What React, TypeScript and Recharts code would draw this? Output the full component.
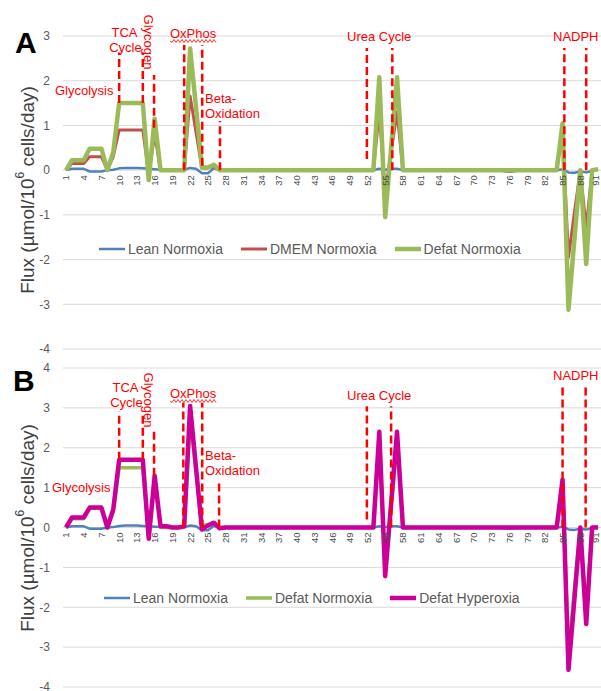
import React from "react";
import { LineChart, Line, XAxis, YAxis, CartesianGrid, ReferenceLine, Legend } from "recharts";

const categories = Array.from({ length: 91 }, (_, i) => i + 1);
const xTicks = [1, 4, 7, 10, 13, 16, 19, 22, 25, 28, 31, 34, 37, 40, 43, 46, 49, 52, 55, 58, 61, 64, 67, 70, 73, 76, 79, 82, 85, 88, 91];
const yTicksA = [-4, -3, -2, -1, 0, 1, 2, 3];
const yTicksB = [-4, -3, -2, -1, 0, 1, 2, 3, 4];

const leanNormoxia = [
  0, 0.03, 0.03, 0.03, -0.03, -0.03, -0.03, 0, 0.01, 0.04,
  0.05, 0.05, 0.05, 0.04, 0.03, 0.02, 0.01, 0, 0, 0,
  0.01, 0.05, 0.03, -0.07, -0.07, 0.04, 0, 0, 0, 0,
  0, 0, 0, 0, 0, 0, 0, 0, 0, 0,
  0, 0, 0, 0, 0, 0, 0, 0, 0, 0,
  0, 0, 0, 0.03, 0.01, 0.03, 0.03, 0, 0, 0,
  0, 0, 0, 0, 0, 0, 0, 0, 0, 0,
  0, 0, 0, 0, -0.02, -0.03, -0.02, 0, 0, 0,
  0, 0, 0, 0, 0.02, -0.05, -0.06, -0.03, -0.05, -0.02,
  0.02,
];
const dmemNormoxia = [
  0, 0.15, 0.15, 0.15, 0.3, 0.3, 0.3, 0, 0.3, 0.9,
  0.9, 0.9, 0.9, 0.9, -0.1, 0.8, 0, 0, 0, 0,
  0, 1.65, 0.85, 0.05, 0.05, 0.08, 0, 0, 0, 0,
  0, 0, 0, 0, 0, 0, 0, 0, 0, 0,
  0, 0, 0, 0, 0, 0, 0, 0, 0, 0,
  0, 0, 0, 1.3, -0.5, 0.4, 1.3, 0, 0, 0,
  0, 0, 0, 0, 0, 0, 0, 0, 0, 0,
  0, 0, 0, 0, -0.01, -0.03, -0.01, 0, 0, 0,
  0, 0, 0, 0, 0.9, -1.95, -0.95, 0, -1.3, 0,
  0.02,
];
const defatNormoxia = [
  0, 0.22, 0.22, 0.22, 0.48, 0.48, 0.48, 0, 0.4, 1.5,
  1.5, 1.5, 1.5, 1.5, -0.22, 1.15, 0, 0, 0, 0,
  0, 2.72, 1.4, 0.06, 0.06, 0.12, 0, 0, 0, 0,
  0, 0, 0, 0, 0, 0, 0, 0, 0, 0,
  0, 0, 0, 0, 0, 0, 0, 0, 0, 0,
  0, 0, 0, 2.08, -1.05, 0.5, 2.08, 0, 0, 0,
  0, 0, 0, 0, 0, 0, 0, 0, 0, 0,
  0, 0, 0, 0, 0, 0, 0, 0, 0, 0,
  0, 0, 0, 0, 1.05, -3.12, -1.55, 0, -2.1, 0,
  0.02,
];
const defatHyperoxia = [
  0, 0.25, 0.25, 0.25, 0.5, 0.5, 0.5, 0, 0.45, 1.7,
  1.7, 1.7, 1.7, 1.7, -0.28, 1.3, 0.03, 0.03, 0, 0,
  0.03, 3.05, 1.5, -0.05, 0.05, 0.12, -0.02, 0, 0, 0,
  0, 0, 0, 0, 0, 0, 0, 0, 0, 0,
  0, 0, 0, 0, 0, 0, 0, 0, 0, 0,
  0, 0, 0, 2.4, -1.22, 0.6, 2.4, 0, 0, 0,
  0, 0, 0, 0, 0, 0, 0, 0, 0, 0,
  0, 0, 0, 0, 0, 0, 0, 0, 0, 0,
  0, 0, 0, 0, 1.2, -3.57, -1.8, 0, -2.42, 0,
  0,
];

// dashed pathway boundaries (x = category, y1..y2 = flux range)
const markersA = [
  { x: 10, y1: 1.5, y2: 2.63 }, { x: 14, y1: 1.5, y2: 2.63 },
  { x: 15.9, y1: 0.95, y2: 2.13 },
  { x: 21, y1: 0, y2: 2.8 }, { x: 24.05, y1: 0.1, y2: 2.8 },
  { x: 27.05, y1: 0, y2: 1.1 },
  { x: 51.9, y1: 0.25, y2: 2.73 }, { x: 56.2, y1: 0, y2: 2.73 },
  { x: 85.3, y1: 0, y2: 2.73 }, { x: 89, y1: 0, y2: 2.73 },
];
const markersB = [
  { x: 10, y1: 1.7, y2: 2.91 }, { x: 14, y1: 1.7, y2: 2.91 },
  { x: 15.9, y1: 1.3, y2: 2.5 },
  { x: 20.85, y1: 0, y2: 3.13 }, { x: 24.05, y1: 0, y2: 3.13 },
  { x: 26.9, y1: 0, y2: 1.2 },
  { x: 51.9, y1: 0.2, y2: 3.04 }, { x: 56, y1: 0, y2: 3.04 },
  { x: 85, y1: 0, y2: 3.58 }, { x: 88.9, y1: 0, y2: 3.58 },
];

const dataA = categories.map((c, i) => ({ cat: c, lean: leanNormoxia[i], dmem: dmemNormoxia[i], defat: defatNormoxia[i] }));
const dataB = categories.map((c, i) => ({ cat: c, lean: leanNormoxia[i], defat: defatNormoxia[i], hyper: defatHyperoxia[i] }));

const FONT = "'Liberation Sans', Arial, sans-serif";
const BLUE = "#4f81bd";
const RED = "#c0504d";
const GREEN = "#9bbb59";
const MAGENTA = "#cc0099";
const X_AXIS_H = 20;

const seriesA = [
  { key: "lean", name: "Lean Normoxia", color: BLUE, width: 2.5 },
  { key: "dmem", name: "DMEM Normoxia", color: RED, width: 3 },
  { key: "defat", name: "Defat Normoxia", color: GREEN, width: 4.5 },
];
const seriesB = [
  { key: "lean", name: "Lean Normoxia", color: BLUE, width: 2.5 },
  { key: "defat", name: "Defat Normoxia", color: GREEN, width: 3.5 },
  { key: "hyper", name: "Defat Hyperoxia", color: MAGENTA, width: 4.5 },
];

// category labels sit on the zero line, not at the bottom of the plot
const makeTick = (zeroY: number) => (props: any) => {
  const { payload } = props;
  const x = Math.min(props.x, 595.5);
  const y = zeroY + 5;
  return (
    <text x={x} y={y} transform={`rotate(-90 ${x} ${y})`} textAnchor="end" dominantBaseline="central"
      fontSize={9.5} fill="#4a4a4a" fontFamily={FONT}>{payload.value}</text>
  );
};

const makeLegend = (series: any[]) => () => (
  <div style={{ display: "flex", alignItems: "center", fontFamily: FONT, fontSize: 14, color: "#595959", height: 20 }}>
    {series.map((s) => (
      <div key={s.key} style={{ display: "flex", alignItems: "center", marginRight: 18 }}>
        <svg width={26} height={8}><line x1={0} y1={4} x2={26} y2={4} stroke={s.color} strokeWidth={s.width} /></svg>
        <span style={{ marginLeft: 3 }}>{s.name}</span>
      </div>
    ))}
  </div>
);

function Panel({ data, series, yMin, yMax, yTicks, markers, plotH, mTop, mBottom, legendTop, legendLeft }: any) {
  const height = mTop + plotH + X_AXIS_H + mBottom;
  const zeroY = mTop + plotH * (yMax / (yMax - yMin));
  return (
    <LineChart width={601} height={height} data={data} margin={{ top: mTop, right: 0, bottom: mBottom, left: 0 }}>
      <CartesianGrid vertical={false} stroke="#d9d9d9" />
      <XAxis dataKey="cat" type="number" domain={[0.5, 91.5]} ticks={xTicks} interval={0} height={X_AXIS_H}
        axisLine={false} tickLine={false} tick={makeTick(zeroY)} />
      <YAxis type="number" domain={[yMin, yMax]} ticks={yTicks} width={63} axisLine={false} tickLine={false}
        tickSize={0} tickMargin={13} tick={{ fontSize: 12, fill: "#595959", fontFamily: FONT }} />
      <Legend layout="horizontal" verticalAlign="middle" align="center" content={makeLegend(series)}
        wrapperStyle={{ top: legendTop, left: legendLeft, width: 480, height: 20 }} />
      {series.map((s: any) => (
        <Line key={s.key} dataKey={s.key} name={s.name} type="linear" stroke={s.color} strokeWidth={s.width}
          dot={false} activeDot={false} strokeLinejoin="round" isAnimationActive={false} />
      ))}
      {markers.map((m: any, i: number) => (
        <ReferenceLine key={i} segment={[{ x: m.x, y: m.y1 }, { x: m.x, y: m.y2 }]} stroke="#ff0000"
          strokeWidth={2.5} strokeDasharray="8 4" ifOverflow="visible" />
      ))}
    </LineChart>
  );
}

function wavy(x0: number, x1: number, y: number) {
  let d = `M${x0} ${y}`;
  for (let x = x0, k = 0; x < x1; x += 2, k++) d += ` L${x + 2} ${y + (k % 2 === 0 ? 1.5 : -1.5)}`;
  return d;
}

function Labels({ tca, glyco, ox, beta, glycolysis, urea, nadph }: any) {
  const t = { fill: "#ff0000", fontSize: 13, fontFamily: FONT };
  return (
    <g>
      <text {...t} x={glycolysis[0]} y={glycolysis[1]}>Glycolysis</text>
      <text {...t} x={tca[0]} y={tca[1]} textAnchor="middle">TCA</text>
      <text {...t} x={tca[0] + 1} y={tca[1] + 15} textAnchor="middle">Cycle</text>
      <text {...t} x={glyco[0]} y={glyco[1]} textAnchor="middle" dominantBaseline="central"
        transform={`rotate(90 ${glyco[0]} ${glyco[1]})`}>Glycogen</text>
      <text {...t} x={ox[0]} y={ox[1]}>OxPhos</text>
      <path d={wavy(ox[0], ox[0] + 46, ox[1] + 3)} stroke="#ff0000" strokeWidth={0.8} fill="none" />
      <text {...t} x={beta[0]} y={beta[1]}>Beta-</text>
      <text {...t} x={beta[0]} y={beta[1] + 15}>Oxidation</text>
      <text {...t} x={urea[0]} y={urea[1]}>Urea Cycle</text>
      <text {...t} x={nadph[0]} y={nadph[1]}>NADPH</text>
    </g>
  );
}

function YTitle({ cy }: { cy: number }) {
  return (
    <text transform={`translate(27 ${cy}) rotate(-90)`} textAnchor="middle" dominantBaseline="central"
      fontSize={19} fill="#404040" fontFamily={FONT}>
      Flux (µmol/10<tspan dy={-7} fontSize={12}>6</tspan><tspan dy={7}> cells/day)</tspan>
    </text>
  );
}

export default function App() {
  return (
    <div style={{ position: "absolute", left: 0, top: 0, width: 601, height: 691, background: "#fff", overflow: "hidden" }}>
      <div style={{ position: "absolute", left: 0, top: 0 }}>
        <Panel data={dataA} series={seriesA} yMin={-4} yMax={3} yTicks={yTicksA} markers={markersA}
          plotH={313} mTop={36} mBottom={2} legendTop={239} legendLeft={99} />
      </div>
      <div style={{ position: "absolute", left: 0, top: 340 }}>
        <Panel data={dataB} series={seriesB} yMin={-4} yMax={4} yTicks={yTicksB} markers={markersB}
          plotH={319} mTop={28} mBottom={2} legendTop={248} legendLeft={104} />
      </div>
      <svg width={601} height={691} style={{ position: "absolute", left: 0, top: 0, pointerEvents: "none" }}>
        <text x={15} y={53} fontSize={30} fontWeight="bold" fontFamily={FONT} fill="#000">A</text>
        <text x={13} y={391} fontSize={30} fontWeight="bold" fontFamily={FONT} fill="#000">B</text>
        <YTitle cy={190} />
        <YTitle cy={528} />
        <Labels tca={[124.5, 37]} glyco={[148, 42]} ox={[170, 38]} beta={[205, 103]}
          glycolysis={[55, 95]} urea={[347, 41]} nadph={[553, 41]} />
        <Labels tca={[125.5, 392]} glyco={[148.5, 400]} ox={[170, 398]} beta={[205, 460]}
          glycolysis={[52, 492]} urea={[347, 400]} nadph={[553, 380]} />
      </svg>
    </div>
  );
}
